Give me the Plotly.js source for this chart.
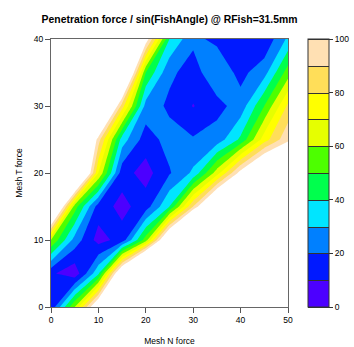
<!DOCTYPE html>
<html>
<head>
<meta charset="utf-8">
<script src="https://cdn.plot.ly/plotly-3.0.1.min.js"></script>
<style>html,body{margin:0;padding:0;background:#fff;}#chart{width:354px;height:347px;}</style>
</head>
<body>
<div id="chart"></div>
<script>
// Grid of the chart (Mesh N force along x, Mesh T force along y)
var meshN = [0, 5, 10, 15, 20, 25, 30, 35, 40, 45, 50];
var meshT = [0, 5, 10, 15, 20, 25, 30, 35, 40];

// Penetration force / sin(FishAngle), one row per Mesh T force value
var forceT0  = [12, 60, 120, 200, 250, 250, 250, 250, 250, 250, 250];
var forceT5  = [12, 3, 38, 125, 200, 250, 250, 250, 250, 250, 250];
var forceT10 = [60, 26, 6, 14, 55, 130, 200, 250, 250, 250, 250];
var forceT15 = [150, 55, 15, 7, 15, 40, 90, 140, 180, 200, 220];
var forceT20 = [220, 160, 70, 14, 6, 19, 32, 65, 105, 135, 130];
var forceT25 = [250, 160, 95, 35, 15, 24, 21, 24, 42, 75, 98];
var forceT30 = [250, 220, 160, 85, 26, 18, 9.5, 17, 24, 50, 82];
var forceT35 = [250, 250, 220, 150, 50, 22, 16, 27, 17, 26, 55];
var forceT40 = [250, 250, 250, 200, 108, 40, 22, 18, 12, 12, 32];

// Level bands 0..100 step 10 and their colours
var levelStart = 0, levelEnd = 100, levelStep = 10;
var bandColors = ['#4C00FF', '#0019FF', '#0080FF', '#00E5FF', '#00FF4D',
                  '#4DFF00', '#E6FF00', '#FFFF00', '#FFDE59', '#FFE0B3'];
var colorbarTicks = [0, 20, 40, 60, 80, 100];
var xTicks = [0, 10, 20, 30, 40, 50];
var yTicks = [0, 10, 20, 30, 40];

var z = [forceT0, forceT5, forceT10, forceT15, forceT20, forceT25, forceT30, forceT35, forceT40];

// colour scale for filled contours: positions i/11 -> below-start, 10 bands, above-end (white)
var nb = bandColors.length;
var fillScale = [[0, bandColors[0]]];
for (var i = 0; i < nb; i++) fillScale.push([(i + 1) / (nb + 1), bandColors[i]]);
fillScale.push([1, '#FFFFFF']);

// stepped colour scale for the colour bar
var stepScale = [];
for (var j = 0; j < nb; j++) {
  stepScale.push([j / nb, bandColors[j]]);
  stepScale.push([(j + 1) / nb, bandColors[j]]);
}

var main = {
  type: 'contour',
  x: meshN, y: meshT, z: z,
  showscale: false,
  hoverinfo: 'skip',
  colorscale: fillScale,
  autocontour: false,
  contours: {start: levelStart, end: levelEnd, size: levelStep, coloring: 'fill', showlines: false},
  line: {width: 0, smoothing: 0}
};

// helper trace (outside axis range) that only provides the colour bar
var bar = {
  type: 'contour',
  x: [1000, 1001], y: [1000, 1001], z: [[levelStart, levelEnd], [levelStart, levelEnd]],
  zmin: levelStart, zmax: levelEnd,
  colorscale: stepScale,
  autocontour: false,
  contours: {start: levelStart, end: levelEnd, size: levelStep, coloring: 'heatmap', showlines: true},
  line: {color: '#333333', width: 1, smoothing: 0},
  hoverinfo: 'skip',
  colorbar: {
    xref: 'container', x: 308 / 354, xanchor: 'left', xpad: 0,
    y: 0.5, yanchor: 'middle', ypad: 0,
    len: 1, lenmode: 'fraction',
    thickness: 21, thicknessmode: 'pixels',
    outlinewidth: 1, outlinecolor: '#333333',
    tickvals: colorbarTicks, ticks: 'outside', ticklen: 4, tickcolor: '#333333',
    tickfont: {size: 8.5, color: '#000'}
  }
};

var axisCommon = {
  ticks: 'outside', ticklen: 5, tickwidth: 1, tickcolor: '#555',
  showline: true, linecolor: '#666', linewidth: 1, mirror: true,
  showgrid: false, zeroline: false,
  tickfont: {size: 8.5, color: '#000'}
};

var layout = {
  width: 354, height: 347,
  margin: {l: 51, r: 66, t: 39, b: 40, pad: 0, autoexpand: false},
  paper_bgcolor: '#ffffff', plot_bgcolor: '#ffffff',
  font: {family: '"Liberation Sans", Arial, sans-serif', size: 8.5, color: '#000'},
  showlegend: false,
  title: {
    text: 'Penetration force / sin(FishAngle) @ RFish=31.5mm',
    font: {size: 10.4, weight: 'bold', color: '#000'},
    xref: 'container', yref: 'container',
    x: 169.5 / 354, xanchor: 'center',
    y: 1 - 19 / 347, yanchor: 'middle'
  },
  xaxis: Object.assign({}, axisCommon, {
    range: [0, 50], tickvals: xTicks,
    title: {text: 'Mesh N force', font: {size: 8.5}, standoff: 13}
  }),
  yaxis: Object.assign({}, axisCommon, {
    range: [0, 40], tickvals: yTicks,
    title: {text: 'Mesh T force', font: {size: 8.5}, standoff: 9}
  })
};

Plotly.newPlot('chart', [main, bar], layout, {displayModeBar: false, staticPlot: true});
</script>
</body>
</html>
